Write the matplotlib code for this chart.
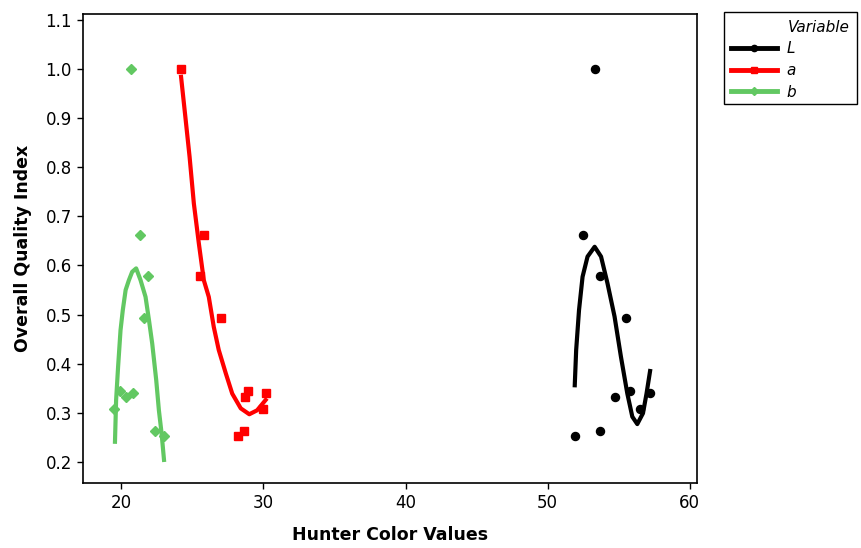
import numpy as np
import matplotlib.pyplot as plt
from matplotlib.lines import Line2D
from matplotlib.patches import Rectangle

# Overall quality index of each sample (same samples for every Hunter value)
oqi = [1.000, 0.662, 0.578, 0.492, 0.345, 0.333, 0.341, 0.308, 0.262, 0.252]

# Hunter colour values of the samples
hunter_L = [53.3, 52.5, 53.7, 55.5, 55.8, 54.7, 57.2, 56.5, 53.7, 51.9]
hunter_a = [24.2, 25.8, 25.5, 27.0, 28.9, 28.7, 30.2, 30.0, 28.6, 28.2]
hunter_b = [20.7, 21.3, 21.9, 21.6, 19.9, 20.3, 20.8, 19.5, 22.4, 23.0]

# Smoothed trend lines
fit_L_x = [51.9, 52.0, 52.2, 52.45, 52.8, 53.3, 53.75, 54.2, 54.7, 55.15,
           55.6, 55.95, 56.3, 56.7, 56.95, 57.2]
fit_L_y = [0.356, 0.428, 0.509, 0.577, 0.618, 0.638, 0.618, 0.564, 0.496, 0.414,
           0.339, 0.292, 0.277, 0.299, 0.339, 0.385]

fit_a_x = [24.2, 24.5, 24.8, 25.1, 25.45, 25.8, 26.15, 26.5, 26.85, 27.35,
           27.8, 28.4, 29.0, 29.55, 30.15]
fit_a_y = [0.984, 0.903, 0.821, 0.726, 0.645, 0.570, 0.536, 0.475, 0.428, 0.380,
           0.339, 0.309, 0.297, 0.305, 0.326]

fit_b_x = [19.55, 19.63, 19.77, 19.94, 20.1, 20.3, 20.53, 20.76, 21.04, 21.35,
           21.7, 21.94, 22.17, 22.45, 22.64, 22.83, 23.0]
fit_b_y = [0.241, 0.326, 0.394, 0.468, 0.509, 0.550, 0.570, 0.587, 0.594, 0.570,
           0.536, 0.489, 0.441, 0.367, 0.305, 0.258, 0.204]

green = '#62c862'
W, H = 861, 548

fig = plt.figure(figsize=(W / 100, H / 100), dpi=100)
ax = fig.add_axes([0.0964, 0.1186, 0.7131, 0.8559])

ax.plot(hunter_L, oqi, 'o', color='black', ms=5.8, ls='none')
ax.plot(hunter_a, oqi, 's', color='red', ms=6, ls='none')
ax.plot(hunter_b, oqi, 'D', color=green, ms=5.5, ls='none')

ax.plot(fit_L_x, fit_L_y, color='black', lw=3)
ax.plot(fit_a_x, fit_a_y, color='red', lw=3)
ax.plot(fit_b_x, fit_b_y, color=green, lw=3)

ax.set_xlim(17.3, 60.5)
ax.set_ylim(0.157, 1.112)
ax.set_xticks([20, 30, 40, 50, 60])
yt = np.round(np.arange(0.2, 1.11, 0.1), 1)
ax.set_yticks(yt)
ax.set_yticklabels(['%.1f' % v for v in yt])
ax.tick_params(direction='out', length=4, width=1, labelsize=12, pad=4)
for sp in ax.spines.values():
    sp.set_linewidth(1.2)

ax.set_xlabel('Hunter Color Values', fontsize=12.5, fontweight='bold', labelpad=10)
ax.set_ylabel('Overall Quality Index', fontsize=12.5, fontweight='bold', labelpad=10)

# legend: box, title and entries placed in figure pixels
fig.patches.append(Rectangle((724 / W, 1 - 104 / H), 133 / W, 92 / H,
                             transform=fig.transFigure, fill=False,
                             edgecolor='black', lw=1.0))
fig.text(788 / W, 1 - 27 / H, 'Variable', style='italic', fontsize=11,
         ha='left', va='center')
handles = [
    Line2D([], [], color='black', lw=3.5, marker='o', ms=4.5),
    Line2D([], [], color='red', lw=3.5, marker='s', ms=4.5),
    Line2D([], [], color=green, lw=3.5, marker='D', ms=4.5),
]
fig.legend(handles, ['L', 'a', 'b'], loc='upper left',
           bbox_to_anchor=(731 / W, 1 - 41 / H), frameon=False,
           borderpad=0, borderaxespad=0, handlelength=3.0,
           handletextpad=0.65, labelspacing=0.45,
           prop={'style': 'italic', 'size': 11})

fig.savefig('out.png', dpi=100)
